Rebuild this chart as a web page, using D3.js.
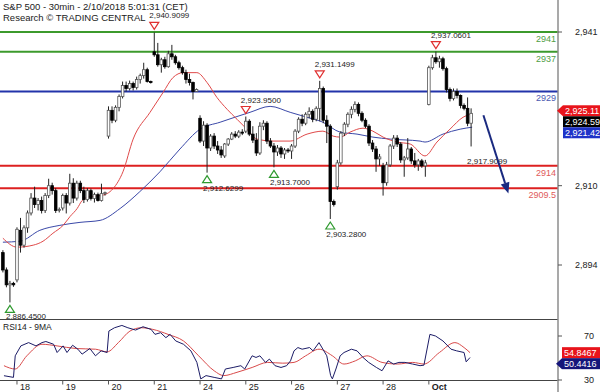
<!DOCTYPE html>
<html>
<head>
<meta charset="utf-8">
<script src="https://cdn.jsdelivr.net/npm/d3@7"></script>
<style>
body { margin: 0; background: #fff; }
text { font-family: Arial, "Liberation Sans", sans-serif; }
</style>
</head>
<body>
<div id="chart"></div>
<script>
// day ticks (bar index of first bar of each session)
const dayLabels = ["18", "19", "20", "21", "24", "25", "26", "27", "28", "Oct"]
const dayStart = [4, 17, 30, 43, 56, 69, 82, 95, 108, 121]

// 30min bars [open, high, low, close]
const ohlc = [
  [2896.5, 2897, 2892.5, 2893], [2893, 2893.5, 2889.5, 2890], [2890, 2890.8, 2886.45, 2890.3], [2890.3, 2890.6, 2889.6, 2890],
  // 18
  [2891, 2901.6, 2890.5, 2901.2], [2901, 2903.5, 2896.5, 2898], [2898, 2902, 2897.5, 2901.5], [2901.5, 2905, 2900.5, 2904.5],
  [2904.5, 2908.5, 2904, 2907.5], [2907.5, 2909.8, 2905.5, 2906.2], [2906.2, 2907.5, 2905, 2907], [2907, 2907.8, 2904.4, 2905],
  [2905, 2908.5, 2904.5, 2908], [2908, 2911.4, 2907.5, 2910], [2910, 2910.6, 2908.2, 2909], [2909, 2909.5, 2904.5, 2905],
  [2905, 2905.6, 2904.6, 2905.2],
  // 19
  [2905.5, 2908.4, 2905, 2908], [2908, 2908.5, 2904.4, 2906.5], [2906.5, 2912.4, 2906, 2910.5], [2910.5, 2911.5, 2906.5, 2907.5],
  [2907.5, 2911, 2907, 2910.5], [2910.5, 2911, 2908.5, 2909], [2909, 2909.8, 2906.5, 2907.2], [2907.2, 2909.5, 2906.8, 2909],
  [2909, 2909.4, 2907, 2907.4], [2907.4, 2908.6, 2906.6, 2908.2], [2908.2, 2908.6, 2906.8, 2907], [2907, 2910.4, 2906.8, 2908.4],
  [2908.4, 2908.8, 2908, 2908.6],
  // 20
  [2920, 2926, 2919.5, 2925.2], [2925.2, 2926, 2922.6, 2923.2], [2923.2, 2926.2, 2922.8, 2925.8], [2925.8, 2928.4, 2925, 2928],
  [2928, 2931, 2927.6, 2930.2], [2930.2, 2931, 2929, 2929.6], [2929.6, 2931.2, 2929.2, 2930.6], [2930.6, 2931, 2929.2, 2929.8],
  [2929.8, 2932, 2929.4, 2931.4], [2931.4, 2932.6, 2930.6, 2932.2], [2932.2, 2934.8, 2931.6, 2933.4], [2933.4, 2933.8, 2930.8, 2931],
  [2931, 2931.2, 2930.6, 2930.9],
  // 21
  [2937, 2940.9099, 2936, 2936.4], [2936.4, 2938.8, 2934, 2934.4], [2934.4, 2935.8, 2932.8, 2935.4], [2935.4, 2936, 2933.6, 2934],
  [2934, 2937.2, 2933.8, 2936.6], [2936.6, 2938.4, 2935.4, 2936], [2936, 2936.4, 2934.4, 2934.8], [2934.8, 2935.2, 2933.4, 2933.8],
  [2933.8, 2934.2, 2932.4, 2932.8], [2932.8, 2933.4, 2930.6, 2931.4], [2931.4, 2932.6, 2930.2, 2930.8], [2930.8, 2931, 2927.4, 2929],
  [2929, 2929.6, 2929, 2929.4],
  // 24
  [2923.6, 2924.2, 2918.6, 2919], [2919, 2923, 2918, 2922.2], [2922.2, 2922.6, 2912.6299, 2917.6], [2917.6, 2920.4, 2917, 2920],
  [2920, 2920.6, 2917.4, 2918], [2918, 2919, 2916.4, 2917.2], [2917.2, 2918, 2915.6, 2916.2], [2916, 2918.6, 2915.6, 2918.4],
  [2918.4, 2919.6, 2918, 2919.4], [2919.4, 2920.8, 2919.2, 2920.4], [2920.4, 2921, 2919.6, 2920], [2920, 2921.2, 2919.6, 2920.8],
  [2920.8, 2921.4, 2920.2, 2920.6],
  // 25
  [2921, 2923.95, 2920.6, 2923], [2923, 2923.4, 2920, 2920.4], [2920.4, 2922, 2918.6, 2919.2], [2919.2, 2920.6, 2916, 2916.6],
  [2916.6, 2922.8, 2916.2, 2922], [2922, 2923.2, 2921.2, 2922.6], [2922.6, 2923, 2918.4, 2919], [2919, 2919.6, 2917.6, 2918],
  [2918, 2918.6, 2913.7, 2916.8], [2916.8, 2918.2, 2916, 2917.6], [2917.6, 2918, 2915.6, 2916.4], [2916.4, 2917.6, 2915.4, 2917.2],
  [2917.2, 2917.6, 2916.6, 2917],
  // 26
  [2917, 2918.4, 2915.4, 2918], [2918, 2921.4, 2917.6, 2921], [2921, 2923.8, 2920.6, 2923.4], [2923.4, 2924.4, 2922, 2922.6],
  [2922.6, 2924.8, 2922.2, 2924.4], [2924.4, 2925.8, 2923.6, 2925], [2925, 2925.4, 2922.8, 2923.4], [2923.4, 2926, 2923, 2925.6],
  [2925.6, 2931.1499, 2923, 2929.6], [2929.6, 2930, 2922.6, 2923.2], [2923.2, 2924.2, 2918.6, 2922], [2922, 2922.4, 2903.28, 2906.8],
  [2906.8, 2907.2, 2905.8, 2906.2],
  // 27
  [2909.8, 2915.2, 2909.2, 2914.6], [2914.6, 2921, 2914.2, 2920.6], [2920.6, 2922.8, 2920, 2922.4], [2922.4, 2924.8, 2921.8, 2924.4],
  [2924.4, 2926, 2923.6, 2925.4], [2925.4, 2927, 2924.8, 2926.4], [2926.4, 2926.8, 2924, 2924.6], [2924.6, 2925, 2922.8, 2923.2],
  [2923.2, 2923.6, 2921.6, 2922], [2922, 2922.4, 2918, 2918.6], [2918.6, 2919.2, 2916.8, 2917.4], [2917.4, 2918, 2912.8, 2915.4],
  [2915.4, 2916.4, 2914, 2915.8],
  // 28
  [2914, 2914.6, 2908, 2910.6], [2910.6, 2914.8, 2910, 2914.2], [2914.2, 2918.4, 2913.8, 2918], [2918, 2920.2, 2917.4, 2919.6],
  [2919.6, 2920.2, 2917.8, 2918.4], [2918.4, 2918.8, 2914.6, 2915.2], [2915.2, 2916, 2911.8, 2915.6], [2915.6, 2919.6, 2915.2, 2917.4],
  [2917.4, 2917.8, 2914.4, 2915], [2915, 2916.6, 2913.6, 2914.2], [2914.2, 2915.4, 2913, 2915], [2915, 2915.4, 2913.6, 2914],
  [2914, 2915.2, 2911.8, 2914.6],
  // Oct 1
  [2926.4, 2934.2, 2926.2, 2933.8], [2933.8, 2936.4, 2933.4, 2935.8], [2935.8, 2937.0601, 2934.6, 2935], [2935, 2936.2, 2933.8, 2935.6],
  [2935.6, 2936, 2933.2, 2933.6], [2933.6, 2934, 2928.8, 2929.4], [2929.4, 2929.8, 2927, 2927.6], [2927.6, 2929.6, 2927.2, 2929],
  [2929, 2929.6, 2927.6, 2928.2], [2928.2, 2928.4, 2925.6, 2926.2], [2926.2, 2926.6, 2925.2, 2925.6], [2925.6, 2927.8, 2922, 2922.6],
  [2922.6, 2925.6, 2917.9099, 2924.59]
]

// moving averages [bar index, price]
const fastMA = [[0, 2899.4], [4, 2897.6], [8.6, 2898], [11.4, 2898.8], [14.2, 2900.4], [17.1, 2902], [19.1, 2903.8],
  [21.1, 2905.4], [22.5, 2907], [24.7, 2907.8], [27.6, 2908], [29.6, 2908.4], [31.3, 2909.4], [34.1, 2912.8], [37, 2919.4],
  [41.8, 2924.8], [45.5, 2928.8], [48.3, 2931.8], [51.2, 2932.8], [55.1, 2932.8], [58, 2930.8], [60.8, 2927.8], [63.7, 2925.4],
  [66.5, 2923.4], [69.3, 2921.4], [72.2, 2919.4], [76.7, 2919], [81.6, 2919], [86.4, 2920.4], [90.9, 2921], [93.8, 2920],
  [95.8, 2919.8], [98.6, 2920.8], [102.3, 2921.6], [105.1, 2921], [108, 2919.8], [112, 2918.8], [115.7, 2918.4], [119.9, 2916],
  [123.3, 2918.8], [127, 2921.4], [130.7, 2923.8], [132.7, 2924.4]]
const slowMA = [[0, 2898.6], [4.9, 2898.8], [10.5, 2901], [16.2, 2902], [21.9, 2902.6], [27.6, 2903], [33.3, 2905.4],
  [38.9, 2908.8], [44.6, 2912.8], [50.3, 2917.4], [56, 2921.4], [61.7, 2922.8], [70.2, 2924.8], [75.9, 2926], [81.6, 2924.8],
  [86.4, 2923.8], [90.9, 2922.8], [95.8, 2920.8], [100.6, 2920.4], [105.1, 2919.8], [110, 2919.4], [118.5, 2919],
  [119.9, 2918.8], [125, 2920.4], [129.9, 2921.4], [133.3, 2921.8]]

// RSI14 and its 9MA [bar index, value]
const rsi = [[0.3, 33.9], [3, 32.4], [3.5, 52], [5.1, 61], [7.3, 64], [9.4, 61], [11.1, 64], [12.2, 65], [14.4, 62.5],
  [15.4, 55], [17.1, 61], [18.2, 55], [19.8, 61.6], [21.3, 58], [22.5, 53.5], [24.7, 58.6], [26.3, 52], [27.9, 56.5],
  [29.6, 55], [30.1, 74.5], [31.7, 77.5], [33.8, 79.6], [35.5, 77.5], [37.7, 75.4], [39.8, 78.4], [42.1, 76], [43.2, 71.5],
  [44.8, 73], [46.3, 68.5], [47.5, 71.5], [49.1, 65.5], [51.3, 62.5], [53.4, 56.5], [55.1, 46], [56.2, 31], [57.7, 34],
  [60, 32.4], [62.1, 31], [63.2, 40], [65.4, 41.4], [67.6, 43], [68.7, 40], [70.8, 52], [71.9, 50.5], [73, 52], [74.6, 46],
  [75.7, 49], [77.3, 43], [79, 41.4], [80.6, 43], [81.7, 47.4], [82.7, 56.5], [83.8, 59.5], [85, 58], [87.1, 59.5],
  [88.1, 56.5], [89.8, 64], [90.9, 58], [92, 52], [93.1, 34], [93.6, 31], [94.6, 40], [95.8, 52], [96.9, 55], [99, 58],
  [100.6, 56.5], [102.3, 50.5], [103.9, 46], [106.1, 41.4], [107.7, 38.4], [109.4, 47.4], [111, 44.5], [112.5, 46],
  [114.2, 46], [116.4, 44.5], [118.5, 43], [119.6, 43.5], [121.3, 71.5], [122.9, 70], [125, 65.5], [127.3, 58],
  [128.9, 56.5], [131, 55], [131.6, 46.5], [132.7, 50.44]]
const rsiMA = [[0.3, 43], [3.5, 40], [6.8, 52], [11.1, 62.5], [15.4, 61], [20.8, 58.6], [26.3, 58], [29.6, 55.6],
  [32.8, 64], [36.1, 74.5], [39.3, 77.5], [42.6, 76], [46.9, 71.5], [51.3, 65.5], [55.6, 52], [60, 38.4], [62.7, 34],
  [66.5, 37], [70.8, 41.4], [75.2, 46], [79.5, 45.3], [82.7, 46], [86, 52], [89.8, 58], [93.6, 52], [96.9, 44.5],
  [100.1, 47.4], [103.4, 52], [107.7, 46], [112.1, 44.5], [116.4, 46], [119.6, 44.5], [124, 55], [128.4, 64],
  [131, 59.5], [132.7, 54.85]]

// support / resistance levels
const levelValues = [2941, 2937, 2929, 2914, 2909.5]
const levelNames = ["2941", "2937", "2929", "2914", "2909.5"]
const levelKinds = ["res", "res", "pivot", "sup", "sup"]

// swing markers [bar index, price]
const highMarks = [[43, 2940.9099], [69, 2923.95], [90, 2931.1499], [123, 2937.0601]]
const lowMarks = [[2, 2886.45], [58, 2912.6299], [77, 2913.7], [93, 2903.28]]
const lastLowMark = [133, 2917.9099]

// expected move arrow [bar index, price]
const arrowFrom = [136.5, 2924.2]
const arrowTo = [143.6, 2908.4]

const priceTicks = [2941, 2910, 2894]
const rsiTicks = [70, 30]
const priceBoxes = [["2,925.11", 2925.11, "#e8141b"], ["2,924.59", 2924.59, "#000"], ["2,921.42", 2921.42, "#1f33c8"]]
const rsiBoxes = [["54.8467", 54.8467, "#e8141b"], ["50.4416", 50.4416, "#16167a"]]

const W = 600, H = 392
const axisX = 558
const mainTop = 0, mainBottom = 319.5
const rsiTop = 319.5, rsiBottom = 380.5

const colors = { res: "#3c9a2c", pivot: "#2233aa", sup: "#dd2020" }
const labelColors = { res: "#4f9d44", pivot: "#4a58b0", sup: "#e05a5a" }

const svg = d3.select("#chart").append("svg")
  .attr("width", W)
  .attr("height", H)
  .style("display", "block")

const x = d3.scaleLinear().domain([0, 133]).range([2.9, 471.1])
const y = d3.scaleLinear().domain([2894, 2941]).range([265, 32])
const yr = d3.scaleLinear().domain([30, 70]).range([380, 336])

svg.append("defs").append("clipPath").attr("id", "mainclip")
  .append("rect").attr("x", 0).attr("y", mainTop).attr("width", axisX).attr("height", mainBottom - mainTop)
svg.select("defs").append("clipPath").attr("id", "rsiclip")
  .append("rect").attr("x", 0).attr("y", rsiTop).attr("width", axisX).attr("height", rsiBottom - rsiTop)

// ---- main panel
const main = svg.append("g").attr("clip-path", "url(#mainclip)")

// levels
levelValues.forEach(function (v, i) {
  main.append("line")
    .attr("x1", 0).attr("x2", axisX)
    .attr("y1", y(v)).attr("y2", y(v))
    .attr("stroke", colors[levelKinds[i]])
    .attr("stroke-width", 2)
  main.append("text")
    .attr("x", axisX - 2)
    .attr("y", y(v) + 10)
    .attr("text-anchor", "end")
    .attr("font-size", 9)
    .attr("fill", labelColors[levelKinds[i]])
    .text(levelNames[i])
})

// moving averages
const maLine = d3.line()
  .x(d => x(d[0]))
  .y(d => y(d[1]))
  .curve(d3.curveMonotoneX)

main.append("path").datum(slowMA)
  .attr("d", maLine)
  .attr("fill", "none")
  .attr("stroke", "#3a48a8")
  .attr("stroke-width", 1)
main.append("path").datum(fastMA)
  .attr("d", maLine)
  .attr("fill", "none")
  .attr("stroke", "#e04a4a")
  .attr("stroke-width", 1)

// candles
const candle = main.append("g").selectAll("g")
  .data(ohlc)
  .enter().append("g")

candle.append("line")
  .attr("x1", (d, i) => x(i)).attr("x2", (d, i) => x(i))
  .attr("y1", d => y(d[1])).attr("y2", d => y(d[2]))
  .attr("stroke", "#222")
  .attr("stroke-width", 1)

candle.append("rect")
  .attr("x", (d, i) => x(i) - 1.3)
  .attr("width", 2.6)
  .attr("y", d => y(Math.max(d[0], d[3])))
  .attr("height", d => Math.max(1, Math.abs(y(d[0]) - y(d[3]))))
  .attr("fill", d => d[3] >= d[0] ? "#fff" : "#000")
  .attr("stroke", d => d[3] >= d[0] ? "#555" : "#000")
  .attr("stroke-width", 0.8)

// swing markers
const fmt = d3.format(",.4f")
highMarks.forEach(function (m) {
  const cx = x(m[0]), cy = y(m[1])
  main.append("path")
    .attr("d", `M${cx - 4.5},${cy - 10}L${cx + 4.5},${cy - 10}L${cx},${cy - 3}Z`)
    .attr("fill", "#fff")
    .attr("stroke", "#e03030")
    .attr("stroke-width", 1.2)
  main.append("text")
    .attr("x", cx - 5).attr("y", cy - 14)
    .attr("font-size", 8)
    .attr("fill", "#222")
    .text(fmt(m[1]))
})
lowMarks.forEach(function (m) {
  const cx = x(m[0]), cy = y(m[1])
  main.append("path")
    .attr("d", `M${cx - 4.5},${cy + 10}L${cx + 4.5},${cy + 10}L${cx},${cy + 3}Z`)
    .attr("fill", "#fff")
    .attr("stroke", "#2f9a2f")
    .attr("stroke-width", 1.2)
  main.append("text")
    .attr("x", cx - 4).attr("y", Math.min(cy + 18, 318.5))
    .attr("font-size", 8)
    .attr("fill", "#222")
    .text(fmt(m[1]))
})
main.append("text")
  .attr("x", x(lastLowMark[0]) - 4).attr("y", y(lastLowMark[1]) + 18)
  .attr("font-size", 8)
  .attr("fill", "#222")
  .text(fmt(lastLowMark[1]))

// projection arrow
const ax1 = x(arrowFrom[0]), ay1 = y(arrowFrom[1]), ax2 = x(arrowTo[0]), ay2 = y(arrowTo[1])
const ang = Math.atan2(ay2 - ay1, ax2 - ax1)
const hl = 11, hw = 4.5
const bx = ax2 - hl * Math.cos(ang), by = ay2 - hl * Math.sin(ang)
main.append("line")
  .attr("x1", ax1).attr("y1", ay1).attr("x2", bx).attr("y2", by)
  .attr("stroke", "#1a2a80").attr("stroke-width", 2)
main.append("path")
  .attr("d", `M${ax2},${ay2}L${bx + hw * Math.sin(ang)},${by - hw * Math.cos(ang)}L${bx - hw * Math.sin(ang)},${by + hw * Math.cos(ang)}Z`)
  .attr("fill", "#1a2a80")

// title
svg.append("text").attr("x", 3).attr("y", 10).attr("font-size", 9.5).attr("fill", "#222")
  .text("S&P 500 - 30min - 2/10/2018 5:01:31 (CET)")
svg.append("text").attr("x", 3).attr("y", 21).attr("font-size", 9.5).attr("fill", "#222")
  .text("Research © TRADING CENTRAL")

// ---- RSI panel
const rp = svg.append("g").attr("clip-path", "url(#rsiclip)")
rp.append("rect").attr("x", 0).attr("y", rsiTop).attr("width", axisX).attr("height", rsiBottom - rsiTop).attr("fill", "#fff")

rp.append("path").datum(rsiMA)
  .attr("d", d3.line().x(d => x(d[0])).y(d => yr(d[1])).curve(d3.curveMonotoneX))
  .attr("fill", "none")
  .attr("stroke", "#d84a4a")
  .attr("stroke-width", 1)
rp.append("path").datum(rsi)
  .attr("d", d3.line().x(d => x(d[0])).y(d => yr(d[1])))
  .attr("fill", "none")
  .attr("stroke", "#1c1c66")
  .attr("stroke-width", 1)

svg.append("text").attr("x", 3).attr("y", 330).attr("font-size", 8.5).attr("fill", "#222").text("RSI14 - 9MA")

// frame lines
svg.append("line").attr("x1", 0).attr("x2", axisX).attr("y1", rsiTop).attr("y2", rsiTop).attr("stroke", "#444").attr("stroke-width", 1)
svg.append("line").attr("x1", 0).attr("x2", axisX).attr("y1", rsiBottom).attr("y2", rsiBottom).attr("stroke", "#444").attr("stroke-width", 1)
svg.append("line").attr("x1", axisX).attr("x2", axisX).attr("y1", 0).attr("y2", H).attr("stroke", "#8c8c8c").attr("stroke-width", 1.5)

// right price axis
priceTicks.forEach(function (v) {
  svg.append("line").attr("x1", axisX).attr("x2", axisX + 4).attr("y1", y(v)).attr("y2", y(v)).attr("stroke", "#555")
  svg.append("text").attr("x", 575).attr("y", y(v) + 3).attr("font-size", 9).attr("fill", "#222").text(d3.format(",")(v))
})
rsiTicks.forEach(function (v) {
  svg.append("line").attr("x1", axisX).attr("x2", axisX + 4).attr("y1", yr(v)).attr("y2", yr(v)).attr("stroke", "#555")
  svg.append("text").attr("x", 584).attr("y", yr(v) + 3).attr("font-size", 9).attr("fill", "#222").text(v)
})

// value boxes, stacked so they do not overlap; one of them carries the pointer
function drawBoxes(list, scale, w, pointerAt) {
  let prev = -Infinity
  list.forEach(function (b, i) {
    const cy = Math.max(scale(b[1]), prev + 11)
    prev = cy
    const bxl = W - w
    if (i === pointerAt) {
      svg.append("path")
        .attr("d", `M${bxl - 6},${cy}L${bxl},${cy - 5.5}L${bxl},${cy + 5.5}Z`)
        .attr("fill", b[2])
    }
    svg.append("rect").attr("x", bxl).attr("y", cy - 5.5).attr("width", w).attr("height", 11).attr("fill", b[2])
    svg.append("text").attr("x", bxl + 2).attr("y", cy + 3.5).attr("font-size", 9).attr("fill", "#fff").text(b[0])
  })
}
drawBoxes(priceBoxes, y, 37, 0)
drawBoxes(rsiBoxes, yr, 38, 1)

// date axis
dayStart.forEach(function (idx, i) {
  const tx = x(idx)
  svg.append("line").attr("x1", tx).attr("x2", tx).attr("y1", rsiBottom).attr("y2", rsiBottom + 4).attr("stroke", "#555")
  svg.append("text").attr("x", tx + 3).attr("y", 390).attr("font-size", 9)
    .attr("font-weight", dayLabels[i] === "Oct" ? "bold" : "normal")
    .attr("fill", "#222").text(dayLabels[i])
})
</script>
</body>
</html>
